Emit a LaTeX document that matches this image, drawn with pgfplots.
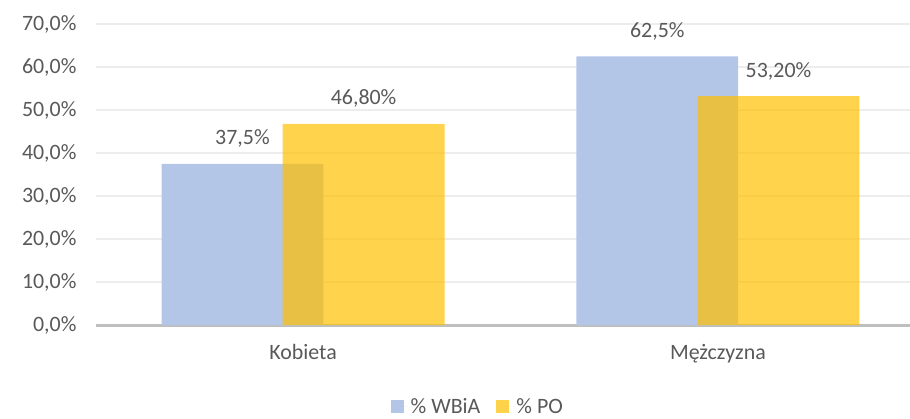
\documentclass[border=0pt]{standalone}
\usepackage{fontspec}
\setmainfont{Carlito}
\usepackage{pgfplots}
\pgfplotsset{compat=1.18}
\usetikzlibrary{calc}
\definecolor{wbia}{HTML}{B4C6E7}
\definecolor{po}{HTML}{FFC000}
\definecolor{txt}{HTML}{595959}
\definecolor{gridc}{HTML}{EDEDED}
\definecolor{axisline}{HTML}{BFBFBF}
\newcommand{\lbl}{\fontsize{22}{26}\selectfont}

\begin{document}
\begin{tikzpicture}
\begin{axis}[
    name=ax,
    scale only axis,
    width=814bp, height=301bp,
    xmin=-0.499, xmax=1.463,
    ymin=0, ymax=70,
    ytick={0,10,...,70},
    xtick={0,1}, xticklabels={Kobieta,Mężczyzna},
    yticklabel={\pgfmathprintnumber[fixed,fixed zerofill,precision=1,use comma]{\tick}\%},
    /pgf/number format/assume math mode=true,
    ymajorgrids, grid style={gridc, line width=1.5bp},
    axis lines*=left,
    y axis line style={draw=none},
    x axis line style={axisline, line width=3bp},
    major tick length=0pt,
    tick label style={font=\lbl, text=txt},
    xticklabel style={yshift=-16bp},
    yticklabel style={xshift=-16bp},
    legend style={at={(0.469,-0.2700)}, anchor=center, draw=none, font=\lbl, text=txt,
        legend columns=2, /tikz/every even column/.append style={column sep=14bp}},
    legend image code/.code={\fill[#1,draw=none] (0bp,-6.5bp) rectangle (13bp,6.5bp);
        \path (0bp,0bp) -- (18bp,0bp);},
    nodes near coords style={font=\lbl, text=txt, text opacity=1, anchor=center, yshift=25bp},
]
  % bars overlap: each series sits 0.146 off the category centre
  \addplot[ybar, bar width=0.39, fill=wbia, draw=none,
      nodes near coords, point meta=explicit symbolic]
      coordinates {(-0.146,37.5)[37,5\%] (0.854,62.5)[62,5\%]};
  \addplot[ybar, bar width=0.39, fill=po, fill opacity=0.7, draw=none,
      nodes near coords, point meta=explicit symbolic]
      coordinates {(0.146,46.8)[46,80\%] (1.146,53.2)[53,20\%]};
  \legend{\% WBiA, \% PO}
\end{axis}
\pgfresetboundingbox
\useasboundingbox ($(ax.south west)+(-96bp,-94bp)$) rectangle ($(ax.north east)+(0bp,24bp)$);
\end{tikzpicture}
\end{document}
